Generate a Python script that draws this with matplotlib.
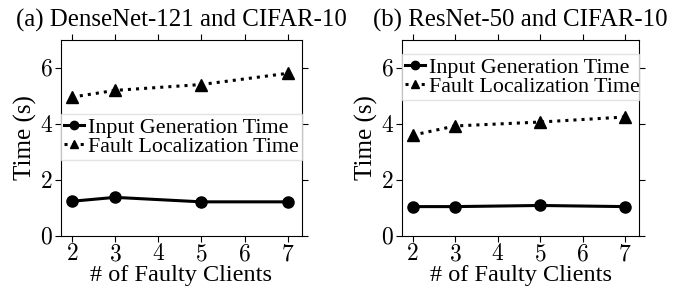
import matplotlib
matplotlib.use("Agg")
from matplotlib import pyplot as plt

clients = [2, 3, 5, 7]

dense_input = [1.24, 1.38, 1.22, 1.22]
dense_fault = [4.96, 5.20, 5.41, 5.81]

resnet_input = [1.05, 1.05, 1.09, 1.05]
resnet_fault = [3.60, 3.93, 4.07, 4.25]

titles = ["(a) DenseNet-121 and CIFAR-10", "(b) ResNet-50 and CIFAR-10"]
labels = ["Input Generation Time", "Fault Localization Time"]

plt.rcParams['font.family'] = ['Liberation Serif', 'DejaVu Serif']
plt.rcParams['mathtext.fontset'] = 'cm'


def draw(ax, inp, fault, title, legend_yc):
  ax.plot(clients, inp, color="black", lw=2.2, marker="o", ms=8, label=labels[0])
  ax.plot(clients, fault, color="black", lw=2.2, ls=":", marker="^", ms=8, label=labels[1])
  ax.set_xlim(1.75, 7.33)
  ax.set_ylim(0, 7)
  ax.set_xticks(range(2, 8))
  ax.set_yticks([0, 2, 4, 6])
  ax.set_xticklabels([f"${t}$" for t in range(2, 8)], fontsize=17)
  ax.set_yticklabels([f"${t}$" for t in [0, 2, 4, 6]], fontsize=17)
  ax.tick_params(direction="out", top=True, right=True, length=4, pad=2)
  ax.set_xlabel("# of Faulty Clients", fontsize=17.5, labelpad=0)
  ax.set_ylabel("Time (s)", fontsize=18, labelpad=2)
  ax.set_title(title, fontsize=17.9, pad=10)
  leg = ax.legend(loc="center", bbox_to_anchor=(0, legend_yc - 0.1, 1, 0.2), fontsize=15.8,
                  handlelength=0.9, handletextpad=0.2, borderpad=0.15,
                  labelspacing=-0.06, borderaxespad=0, mode="expand", markerscale=0.75,
                  fancybox=False, framealpha=0.8)
  leg.get_frame().set_edgecolor("#dddddd")


fig = plt.figure(figsize=(6.88, 2.94), dpi=100)
ax1 = fig.add_axes([61 / 688, 58 / 294, 241 / 688, 196 / 294])
ax2 = fig.add_axes([402 / 688, 58 / 294, 237 / 688, 196 / 294])
draw(ax1, dense_input, dense_fault, titles[0], 0.503)
draw(ax2, resnet_input, resnet_fault, titles[1], 0.809)

fig.savefig("out.png", dpi=100)
